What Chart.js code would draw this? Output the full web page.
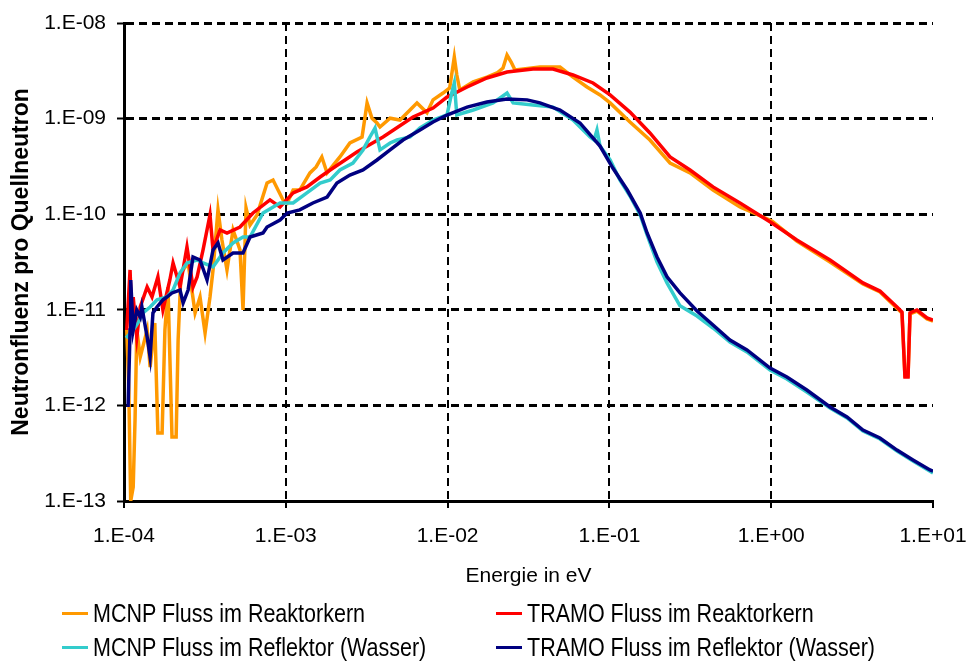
<!DOCTYPE html>
<html><head><meta charset="utf-8">
<script src="https://cdn.jsdelivr.net/npm/chart.js@4.4.1/dist/chart.umd.min.js"></script>
<style>
html,body{margin:0;padding:0;background:#fff;}
#wrap{position:relative;width:972px;height:661px;overflow:hidden;background:#fff;}
#legend{position:absolute;left:62px;top:596px;display:grid;grid-template-columns:434px auto;grid-auto-rows:34px;font-family:"Liberation Sans",Arial,sans-serif;font-size:25px;color:#000;}
.li{display:flex;align-items:center;white-space:nowrap;}
.mk{width:26px;height:3px;margin-right:5px;flex:none;}
.tx{display:inline-block;transform:scaleX(0.86);transform-origin:0 50%;}
</style></head>
<body><div id="wrap"><canvas id="c" width="972" height="661"></canvas><div id="legend"></div></div>
<script>
// ---- data ----
const seriesLabels = ['MCNP Fluss im Reaktorkern','TRAMO Fluss im Reaktorkern','MCNP Fluss im Reflektor (Wasser)','TRAMO Fluss im Reflektor (Wasser)'];
const xTicks = [1e-4,1e-3,1e-2,1e-1,1,10];
const xTickLabels = ['1.E-04','1.E-03','1.E-02','1.E-01','1.E+00','1.E+01'];
const yTicks = [1e-13,1e-12,1e-11,1e-10,1e-9,1e-8];
const yTickLabels = ['1.E-13','1.E-12','1.E-11','1.E-10','1.E-09','1.E-08'];

const eMcnpCore = [1.04e-4,1.07e-4,1.10e-4,1.14e-4,1.17e-4,1.20e-4,1.26e-4,1.39e-4,1.45e-4,1.55e-4,1.62e-4,1.72e-4,1.79e-4,1.87e-4,1.98e-4,2.10e-4,2.16e-4,2.25e-4,2.49e-4,2.75e-4,2.95e-4,3.17e-4,3.40e-4,3.55e-4,3.81e-4,4.03e-4,4.33e-4,4.72e-4,5.21e-4,5.44e-4,5.68e-4,6.01e-4,6.64e-4,7.66e-4,8.34e-4,9.61e-4,1.02e-3,1.11e-3,1.22e-3,1.41e-3,1.54e-3,1.67e-3,1.80e-3,2.16e-3,2.49e-3,2.96e-3,3.18e-3,3.41e-3,3.66e-3,3.82e-3,4.41e-3,5.08e-3,6.11e-3,6.47e-3,7.46e-3,8.13e-3,9.37e-3,1.03e-2,1.10e-2,1.14e-2,1.19e-2,1.44e-2,1.75e-2,2.02e-2,2.20e-2,2.33e-2,2.47e-2,2.61e-2,3.72e-2,4.95e-2,5.96e-2,7.27e-2,8.75e-2,0.101,0.134,0.178,0.237,0.315,0.437,0.641,1.01,1.44,2.31,3.69,4.70,5.99,6.43,6.71,7.01,7.21,7.96,9.18,10.0];
const fMcnpCore = [6.15e-12,1.56e-12,1.0e-13,1.4e-13,7.04e-13,6.15e-12,3.21e-12,6.15e-12,2.52e-12,7.28e-12,5.14e-13,5.14e-13,6.15e-12,1.73e-11,4.67e-13,4.67e-13,4.83e-12,2.43e-11,3.09e-11,9.27e-12,1.36e-11,5.72e-12,1.36e-11,2.61e-11,1.11e-10,5.37e-11,2.61e-11,6.84e-11,4.23e-11,9.95e-12,1.16e-10,7.71e-11,9.81e-11,2.12e-10,2.28e-10,1.41e-10,1.31e-10,1.79e-10,1.79e-10,2.70e-10,3.12e-10,3.97e-10,2.70e-10,3.97e-10,5.56e-10,6.42e-10,1.46e-9,1.01e-9,9.00e-10,8.17e-10,1.01e-9,9.67e-10,1.32e-9,1.46e-9,1.15e-9,1.57e-9,1.85e-9,2.09e-9,4.41e-9,2.86e-9,1.99e-9,2.42e-9,2.72e-9,3.00e-9,3.38e-9,4.62e-9,3.91e-9,3.22e-9,3.46e-9,3.46e-9,2.72e-9,2.14e-9,1.77e-9,1.46e-9,9.21e-10,5.97e-10,3.43e-10,2.70e-10,1.79e-10,1.19e-10,8.49e-11,5.25e-11,3.16e-11,1.86e-11,1.54e-11,1.04e-11,9.27e-12,2.03e-12,2.03e-12,9.04e-12,9.71e-12,8.02e-12,7.64e-12];

const eTramoCore = [1.04e-4,1.09e-4,1.12e-4,1.14e-4,1.20e-4,1.26e-4,1.39e-4,1.49e-4,1.62e-4,1.74e-4,1.92e-4,2.01e-4,2.22e-4,2.45e-4,2.67e-4,2.83e-4,3.08e-4,3.40e-4,3.55e-4,3.92e-4,4.33e-4,5.21e-4,6.27e-4,7.98e-4,9.21e-4,1.11e-3,1.35e-3,1.63e-3,1.88e-3,2.75e-3,3.99e-3,6.11e-3,8.13e-3,9.91e-3,1.32e-2,1.75e-2,2.33e-2,3.37e-2,4.48e-2,5.96e-2,7.92e-2,0.101,0.134,0.178,0.237,0.315,0.437,0.641,1.01,1.44,2.31,3.69,4.70,5.99,6.43,6.71,7.01,7.21,7.96,9.18,10.0];
const fTramoCore = [6.15e-12,2.61e-11,7.28e-12,1.36e-11,5.19e-12,1.07e-11,1.73e-11,1.36e-11,2.21e-11,9.95e-12,2.05e-11,3.09e-11,1.73e-11,4.54e-11,1.73e-11,2.21e-11,4.23e-11,9.81e-11,4.23e-11,6.84e-11,6.36e-11,7.35e-11,1.03e-10,1.41e-10,1.19e-10,1.67e-10,1.93e-10,2.45e-10,2.90e-10,4.48e-10,6.42e-10,1.04e-9,1.29e-9,1.68e-9,2.14e-9,2.66e-9,3.07e-9,3.30e-9,3.30e-9,2.86e-9,2.36e-9,1.77e-9,1.17e-9,7.07e-10,3.97e-10,2.90e-10,1.93e-10,1.31e-10,8.09e-11,5.37e-11,3.32e-11,1.91e-11,1.57e-11,1.07e-11,9.48e-12,1.98e-12,1.98e-12,9.27e-12,9.95e-12,8.21e-12,7.82e-12];

const eMcnpRefl = [1.03e-4,1.14e-4,1.22e-4,1.31e-4,1.45e-4,1.60e-4,1.84e-4,2.01e-4,2.22e-4,2.45e-4,2.83e-4,3.08e-4,3.55e-4,4.09e-4,4.72e-4,5.44e-4,6.01e-4,7.23e-4,9.21e-4,1.11e-3,1.35e-3,1.63e-3,1.88e-3,2.16e-3,2.60e-3,3.00e-3,3.31e-3,3.56e-3,3.82e-3,4.41e-3,4.87e-3,5.86e-3,6.75e-3,8.13e-3,9.91e-3,1.06e-2,1.10e-2,1.14e-2,1.44e-2,1.91e-2,2.33e-2,2.54e-2,3.37e-2,4.48e-2,5.96e-2,7.59e-2,8.04e-2,8.38e-2,8.75e-2,0.101,0.116,0.134,0.155,0.171,0.197,0.227,0.273,0.348,0.437,0.556,0.708,0.984,1.25,1.66,2.31,2.94,3.69,4.70,5.99,7.52,10.0];
const fMcnpRefl = [5.07e-12,6.15e-12,7.28e-12,9.27e-12,1.07e-11,1.27e-11,1.36e-11,1.61e-11,2.43e-11,3.09e-11,3.32e-11,3.09e-11,2.81e-11,3.93e-11,5.00e-11,5.78e-11,5.78e-11,1.03e-10,1.31e-10,1.31e-10,1.67e-10,2.12e-10,2.28e-10,2.90e-10,3.43e-10,4.70e-10,6.42e-10,7.97e-10,4.70e-10,5.56e-10,5.97e-10,6.42e-10,7.97e-10,9.67e-10,1.09e-9,1.85e-9,2.36e-9,1.09e-9,1.23e-9,1.46e-9,1.85e-9,1.46e-9,1.39e-9,1.32e-9,9.67e-10,6.42e-10,5.97e-10,7.60e-10,5.16e-10,3.69e-10,2.28e-10,1.55e-10,9.81e-11,6.06e-11,3.16e-11,1.91e-11,1.10e-11,8.61e-12,6.45e-12,4.61e-12,3.62e-12,2.35e-12,1.89e-12,1.38e-12,9.40e-13,7.38e-13,5.40e-13,4.45e-13,3.33e-13,2.62e-13,1.96e-13];

const eTramoRefl = [1.06e-4,1.09e-4,1.10e-4,1.14e-4,1.20e-4,1.26e-4,1.29e-4,1.39e-4,1.45e-4,1.51e-4,1.60e-4,1.74e-4,1.84e-4,1.98e-4,2.22e-4,2.32e-4,2.49e-4,2.67e-4,2.95e-4,3.26e-4,3.55e-4,3.81e-4,4.09e-4,4.72e-4,5.44e-4,6.01e-4,7.23e-4,7.66e-4,9.21e-4,1.02e-3,1.22e-3,1.47e-3,1.80e-3,2.07e-3,2.49e-3,3.00e-3,3.66e-3,4.41e-3,5.30e-3,6.75e-3,8.13e-3,9.91e-3,1.32e-2,1.75e-2,2.33e-2,3.10e-2,3.72e-2,4.95e-2,6.58e-2,8.75e-2,0.105,0.129,0.155,0.171,0.197,0.227,0.273,0.348,0.437,0.556,0.708,0.984,1.25,1.66,2.31,2.94,3.69,4.70,5.99,7.52,9.58,10.0];
const fTramoRefl = [9.62e-13,6.15e-12,2.05e-11,6.15e-12,9.95e-12,8.41e-12,1.07e-11,5.19e-12,3.21e-12,9.27e-12,1.07e-11,1.27e-11,1.36e-11,1.50e-11,1.61e-11,1.18e-11,1.61e-11,3.57e-11,3.32e-11,2.05e-11,4.23e-11,5.00e-11,3.32e-11,3.93e-11,3.93e-11,5.78e-11,6.36e-11,7.35e-11,8.70e-11,1.03e-10,1.11e-10,1.31e-10,1.51e-10,2.12e-10,2.57e-10,2.90e-10,3.69e-10,4.70e-10,5.97e-10,7.60e-10,9.21e-10,1.09e-9,1.32e-9,1.49e-9,1.60e-9,1.57e-9,1.46e-9,1.23e-9,9.00e-10,5.16e-10,3.04e-10,1.79e-10,1.03e-10,6.36e-11,3.57e-11,2.21e-11,1.50e-11,9.71e-12,6.93e-12,4.83e-12,3.80e-12,2.46e-12,1.98e-12,1.45e-12,9.62e-13,7.56e-13,5.53e-13,4.56e-13,3.41e-13,2.69e-13,2.11e-13,2.06e-13];

// ---- fonts ----
const tickFont = {family:'"Liberation Sans", Arial', size:21};
const xTitleFont = {family:'"Liberation Sans", Arial', size:21};
const yTitleFont = {family:'"Liberation Sans", Arial', size:23, weight:'bold'};

const AREA_BOTTOM = 501, XTITLE_CENTER = 576;
const xScaleH = XTITLE_CENTER + xTitleFont.size * 1.2 / 2 - AREA_BOTTOM;
const padBottom = 661 - AREA_BOTTOM - xScaleH;

const pts = (ex, fy) => ex.map((e, i) => ({x: e, y: fy[i]}));

const htmlLegend = {
  id: 'htmlLegend',
  afterUpdate(chart) {
    const box = document.getElementById('legend');
    box.innerHTML = '';
    const items = chart.options.plugins.legend.labels.generateLabels(chart)
      .sort((a, b) => a.datasetIndex - b.datasetIndex);
    items.forEach(it => {
      const li = document.createElement('div'); li.className = 'li';
      const m = document.createElement('span'); m.className = 'mk'; m.style.background = it.strokeStyle;
      const t = document.createElement('span'); t.className = 'tx'; t.textContent = it.text;
      li.append(m, t); box.append(li);
    });
  }
};

new Chart(document.getElementById('c'), {
  type: 'line',
  data: {
    datasets: [
      {label: seriesLabels[0], data: pts(eMcnpCore, fMcnpCore), borderColor: '#FF9900', backgroundColor: '#FF9900', order: 3},
      {label: seriesLabels[1], data: pts(eTramoCore, fTramoCore), borderColor: '#FF0000', backgroundColor: '#FF0000', order: 2},
      {label: seriesLabels[2], data: pts(eMcnpRefl, fMcnpRefl), borderColor: '#33CCCC', backgroundColor: '#33CCCC', order: 1},
      {label: seriesLabels[3], data: pts(eTramoRefl, fTramoRefl), borderColor: '#000080', backgroundColor: '#000080', order: 0}
    ]
  },
  options: {
    responsive: false,
    animation: false,
    events: [],
    elements: {line: {borderWidth: 3.5, tension: 0, fill: false, borderJoinStyle: 'miter'}, point: {radius: 0}},
    layout: {padding: {left: 8, top: 23, right: 39, bottom: padBottom}},
    plugins: {legend: {display: false}, tooltip: {enabled: false}},
    scales: {
      x: {
        type: 'logarithmic', min: 1e-4, max: 10,
        afterBuildTicks: s => { s.ticks = xTicks.map(v => ({value: v})); },
        afterFit: s => { s.height = xScaleH; s.paddingLeft = 0; s.paddingRight = 0; },
        ticks: {callback: (v, i) => xTickLabels[i], font: tickFont, color: '#000', padding: 16, maxRotation: 0, autoSkip: false},
        grid: {color: c => (c.index === xTicks.length - 1 || c.index === 0) ? 'rgba(0,0,0,0)' : '#000', lineWidth: 2, tickColor: '#000', tickWidth: 2, tickLength: 7},
        border: {color: '#000', width: 3, dash: [8, 5]},
        title: {display: true, text: 'Energie in eV', font: xTitleFont, color: '#000', padding: {top: 0, bottom: 0}}
      },
      y: {
        type: 'logarithmic', min: 1e-13, max: 1e-8,
        afterBuildTicks: s => { s.ticks = yTicks.map(v => ({value: v})); },
        afterFit: s => { s.width = 116; s.paddingTop = 0; s.paddingBottom = 0; },
        ticks: {callback: (v, i) => yTickLabels[i], font: tickFont, color: '#000', padding: 11, autoSkip: false},
        grid: {color: c => c.index === 0 ? 'rgba(0,0,0,0)' : '#000', lineWidth: 3, tickColor: '#000', tickWidth: 2, tickLength: 7},
        border: {color: '#000', width: 3, dash: [8, 5]},
        title: {display: true, text: 'Neutronfluenz pro Quellneutron', font: yTitleFont, color: '#000', padding: {top: 0, bottom: 0}}
      }
    }
  },
  plugins: [htmlLegend]
});
</script>
</body></html>
